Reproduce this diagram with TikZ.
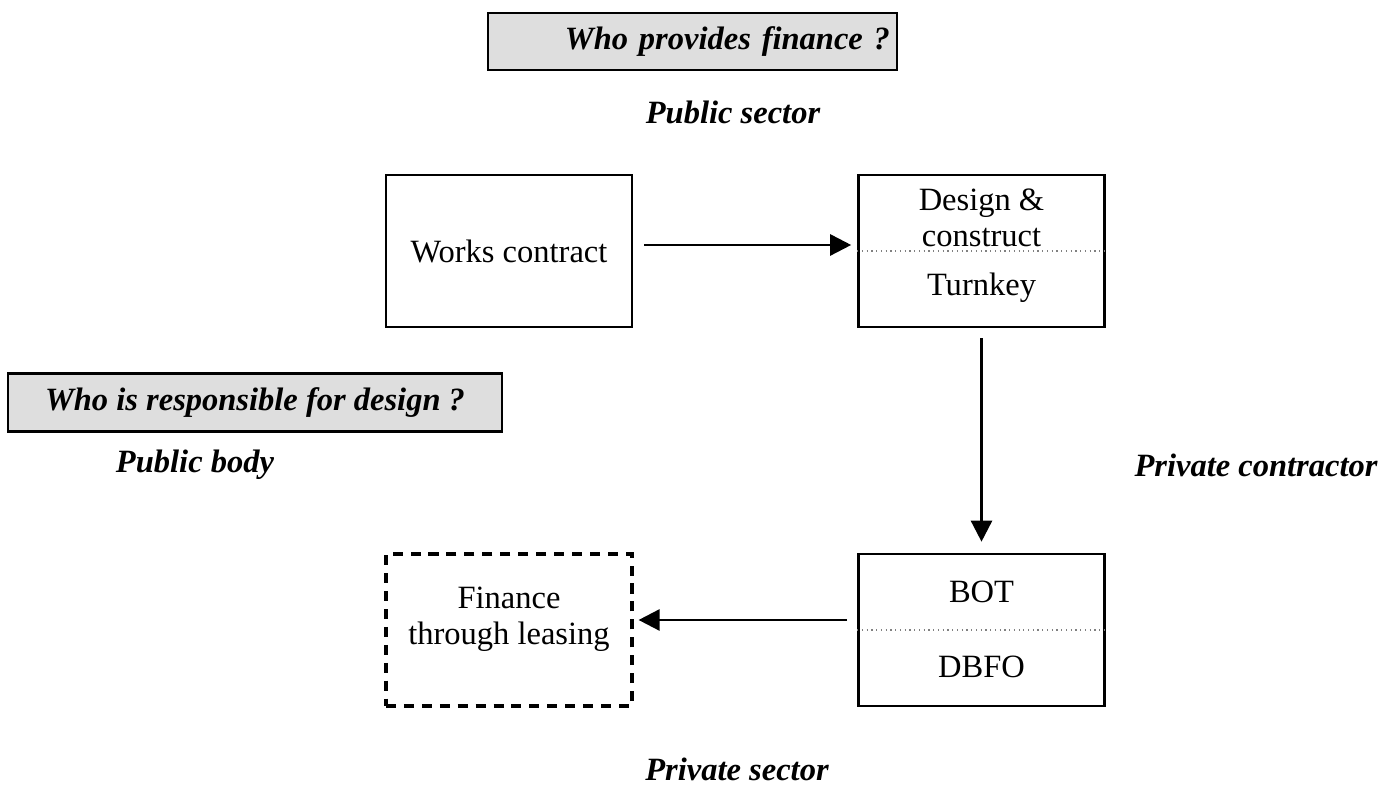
\documentclass[tikz,border=0pt]{standalone}
\usepackage{fontspec}
\setmainfont{Liberation Serif}
\usetikzlibrary{arrows.meta}
\begin{document}
\begin{tikzpicture}[>={Triangle[length=0.42cm,width=0.42cm]},
  font=\fontsize{18.5}{20.5}\selectfont,
  box/.style={draw,line width=1.5pt,align=center,minimum width=4.92cm,minimum height=3.04cm},
  question/.style={draw,line width=1.5pt,fill=black!13,font=\fontsize{18.5}{21}\selectfont\bfseries\itshape},
  tag/.style={font=\fontsize{18.5}{21}\selectfont\bfseries\itshape},
  sep/.style={dotted,gray,line width=0.7pt},
  link/.style={->,line width=1.5pt}]
\useasboundingbox (0,0) rectangle (27.78,15.8);
% questions and answers
\node[question,text width=7.9cm,align=right,inner xsep=0.14cm,minimum height=1.14cm] (finq) at (13.85,14.97) {Who provides finance ?};
\node[tag] (pubsec) at (14.66,13.56) {Public sector};
\node[question,minimum width=9.88cm,minimum height=1.16cm] (desq) at (5.1,7.75) {Who is responsible for design ?};
\node[tag] (pubbody) at (3.9,6.5) {Public body};
\node[tag] (privcon) at (25.12,6.5) {Private contractor};
\node[tag] (privsec) at (14.74,0.42) {Private sector};
% contract boxes
\node[box] (works) at (10.18,10.78) {Works contract};
\node[box] (dc) at (19.63,10.78) {};
\draw[sep] (dc.west)--(dc.east);
\node[align=center] (dctext) at (19.63,11.44) {Design \&\\construct};
\node (turnkey) at (19.63,10.04) {Turnkey};
\node[box] (bot) at (19.63,3.2) {};
\draw[sep] (bot.west)--(bot.east);
\node (bottext) at (19.63,3.96) {BOT};
\node (dbfo) at (19.63,2.46) {DBFO};
\node[box,dash pattern=on 5.7pt off 4.5pt,line width=1.8pt] (lease) at (10.18,3.2) {};
\node[align=center] (leasetext) at (10.18,3.42) {Finance\\through leasing};
% arrows
\draw[link,shorten <=0.22cm,shorten >=0.12cm] ([yshift=0.12cm]works.east)--([yshift=0.12cm]dc.west);
\draw[link,shorten <=0.2cm,shorten >=0.22cm] (dc.south)--(bot.north);
\draw[link,shorten <=0.2cm,shorten >=0.1cm] ([yshift=0.2cm]bot.west)--([yshift=0.2cm]lease.east);
\end{tikzpicture}
\end{document}
